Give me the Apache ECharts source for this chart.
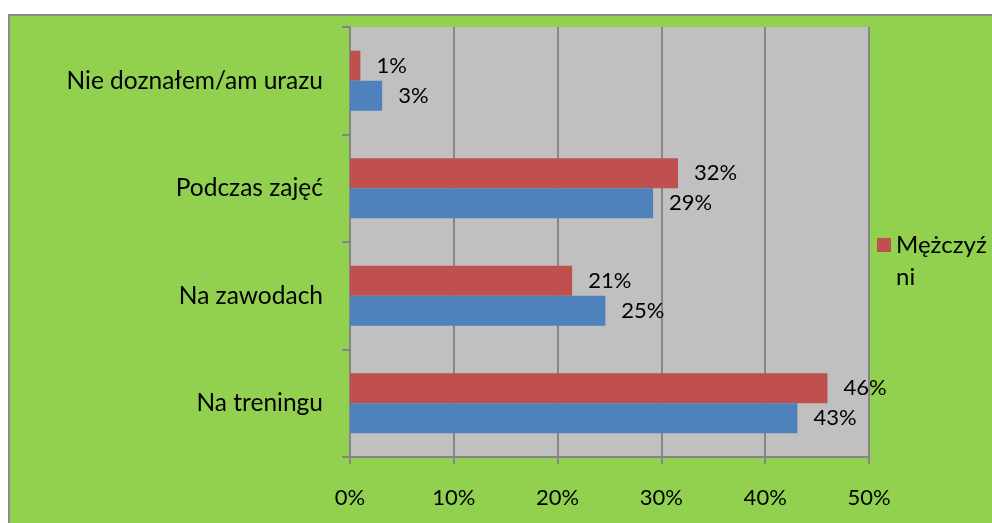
<!DOCTYPE html>
<html>
<head>
<meta charset="utf-8">
<script src="https://cdn.jsdelivr.net/npm/echarts@6/dist/echarts.min.js"></script>
<style>html,body{margin:0;padding:0;background:#fff}#c{width:992px;height:523px}</style>
</head>
<body>
<div id="c"></div>
<script>
var categories = ['Na treningu', 'Na zawodach', 'Podczas zajęć', 'Nie doznałem/am urazu'];
var seriesBlueName = 'Kobiety';
var seriesBlue = [43.1, 24.6, 29.2, 3.1];
var seriesRedName = 'Mężczyźni';
var seriesRed = [46.0, 21.4, 31.6, 1.0];
var xTicks = [0, 10, 20, 30, 40, 50];

var FONT = 'Lato';
var chart = echarts.init(document.getElementById('c'), null, {renderer: 'canvas'});
var labelCfg = {
  show: true, position: 'right', distance: 16,
  color: '#000', fontFamily: FONT, fontSize: 22,
  formatter: function (p) { return Math.round(p.value) + '%'; }
};
chart.setOption({
  backgroundColor: '#ffffff',
  animation: false,
  graphic: [{
    type: 'rect', z: -10, silent: true,
    shape: {x: 9, y: 15, width: 990, height: 515},
    style: {fill: '#92D050', stroke: '#8a8a8a', lineWidth: 2}
  }],
  grid: {
    left: 350, right: 123, top: 27, bottom: 66,
    show: true, backgroundColor: '#C0C0C0', borderWidth: 0
  },
  legend: {
    data: [seriesRedName],
    left: 877, top: 229, orient: 'vertical', padding: 0,
    itemWidth: 14, itemHeight: 46, itemGap: 0,
    icon: 'path://M0,0L14,0L14,14L0,14Z M0,45.99L0.01,45.99L0.01,46L0,46Z',
    formatter: function (name) { return name.slice(0, 7) + '\n' + name.slice(7); },
    textStyle: {
      fontFamily: FONT, fontSize: 24, color: '#000', lineHeight: 32
    }
  },
  xAxis: {
    type: 'value', min: xTicks[0], max: xTicks[xTicks.length - 1], interval: 10,
    axisLine: {show: true, lineStyle: {color: '#868686', width: 2}},
    axisTick: {show: true, length: 7, lineStyle: {color: '#868686', width: 2}},
    splitLine: {show: true, lineStyle: {color: '#868686', width: 2}},
    axisLabel: {
      margin: 30, color: '#000', fontFamily: FONT, fontSize: 22,
      formatter: '{value}%'
    }
  },
  yAxis: {
    type: 'category', data: categories,
    axisLine: {show: true, lineStyle: {color: '#868686', width: 2}},
    axisTick: {show: true, length: 8, lineStyle: {color: '#868686', width: 2}},
    axisLabel: {margin: 27, color: '#000', fontFamily: FONT, fontSize: 24.5}
  },
  series: [
    {name: seriesRedName, type: 'bar', data: seriesRed, barGap: '0%', barCategoryGap: '44%',
     itemStyle: {color: '#C0504D'}, label: labelCfg},
    {name: seriesBlueName, type: 'bar', data: seriesBlue, barGap: '0%', barCategoryGap: '44%',
     itemStyle: {color: '#4F81BD'}, label: labelCfg}
  ]
});
</script>
</body>
</html>
